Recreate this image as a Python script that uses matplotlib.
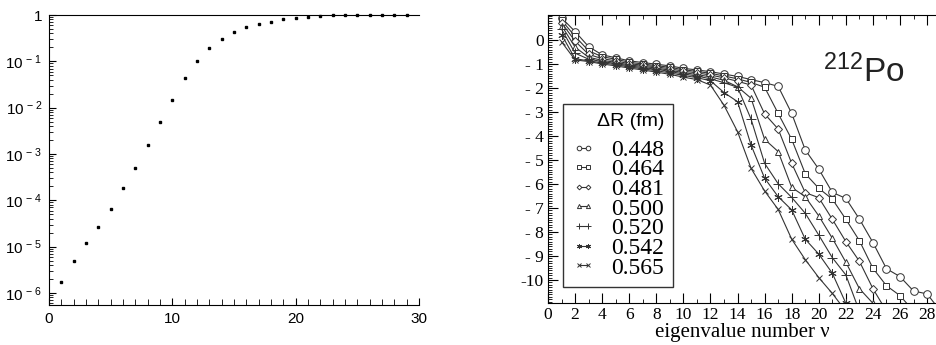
import numpy as np
import matplotlib
matplotlib.use('Agg')
import matplotlib.pyplot as plt
from matplotlib.ticker import MultipleLocator, FixedLocator, FuncFormatter, LogLocator, NullFormatter

# left panel: dots on a log scale
nu_left = np.arange(1, 30)
left_vals = [1.7e-6, 4.9e-6, 1.2e-5, 2.6e-5, 6.6e-5, 1.8e-4, 5.1e-4, 1.55e-3,
             4.9e-3, 1.5e-2, 4.4e-2, 0.102, 0.19, 0.30, 0.43, 0.54, 0.65, 0.72,
             0.81, 0.87, 0.91, 0.95, 0.98, 0.99, 1.0, 1.0, 1.0, 1.0, 1.0]

# right panel: log eigenvalues for several Delta R
dR_labels = ['0.448', '0.464', '0.481', '0.500', '0.520', '0.542', '0.565']
y_448 = [0.92, 0.35, -0.28, -0.62, -0.74, -0.87, -0.94, -1.01, -1.08, -1.18, -1.25, -1.32,
         -1.42, -1.52, -1.65, -1.78, -1.93, -3.06, -4.58, -5.38, -6.35, -6.6, -7.46, -8.44,
         -9.53, -9.86, -10.46, -10.58, -11.3]
y_464 = [0.82, 0.15, -0.45, -0.7, -0.8, -0.93, -1.0, -1.07, -1.14, -1.24, -1.31, -1.39,
         -1.5, -1.62, -1.77, -1.97, -3.06, -4.14, -5.57, -6.18, -6.63, -7.47, -8.36, -9.51,
         -10.24, -10.65, -11.3]
y_481 = [0.72, -0.05, -0.6, -0.78, -0.87, -0.99, -1.05, -1.12, -1.2, -1.3, -1.37, -1.46,
         -1.58, -1.72, -1.88, -3.08, -3.71, -5.14, -6.36, -6.57, -7.47, -8.4, -9.22, -10.36,
         -11.3]
y_500 = [0.6, -0.3, -0.72, -0.85, -0.93, -1.04, -1.1, -1.17, -1.26, -1.36, -1.44, -1.54,
         -1.68, -1.95, -2.43, -4.14, -4.65, -6.14, -6.53, -7.33, -8.26, -9.26, -10.36, -10.97]
y_520 = [0.45, -0.55, -0.8, -0.9, -0.98, -1.08, -1.15, -1.22, -1.31, -1.42, -1.5, -1.62,
         -1.78, -1.97, -3.3, -5.14, -5.99, -6.56, -7.22, -8.13, -9.07, -9.79, -11.3]
y_542 = [0.22, -0.78, -0.87, -0.95, -1.03, -1.12, -1.2, -1.28, -1.37, -1.48, -1.57, -1.7,
         -2.19, -2.57, -4.38, -5.76, -6.53, -7.08, -8.3, -8.92, -9.72, -10.97]
y_565 = [-0.08, -0.83, -0.9, -1.0, -1.08, -1.17, -1.25, -1.34, -1.43, -1.55, -1.65, -1.88,
         -2.72, -3.82, -5.35, -6.29, -7.06, -8.3, -9.15, -9.9, -10.56, -11.3]
series = [y_448, y_464, y_481, y_500, y_520, y_542, y_565]
markers = ['o', 's', 'D', '^', '+', (6, 2, 0), 'x']
msizes = [5.5, 5, 4, 5, 7, 6, 5]

fig = plt.figure(figsize=(9.36, 3.45), dpi=100)

# ---- left panel ----
ax1 = fig.add_axes([0.0524, 0.1159, 0.3953, 0.8406])
ax1.semilogy(nu_left, left_vals, 's', color='black', markersize=2, clip_on=False)
ax1.set_xlim(0, 30)
ax1.set_ylim(10 ** -6.26, 1)
ax1.spines['right'].set_visible(False)
ax1.set_xticks([0, 10, 20, 30])
ax1.xaxis.set_minor_locator(MultipleLocator(1))
ax1.yaxis.set_major_locator(FixedLocator([10.0 ** -k for k in range(0, 7)]))
ax1.yaxis.set_minor_locator(LogLocator(base=10, subs=np.arange(2, 10) * 1.0, numticks=20))
ax1.yaxis.set_minor_formatter(NullFormatter())


def left_fmt(v, pos):
    k = int(round(-np.log10(v)))
    if k == 0:
        return '1'
    return r'$\mathregular{10^{\,-%d}}$' % k


ax1.yaxis.set_major_formatter(FuncFormatter(left_fmt))
ax1.tick_params(which='both', direction='in', labelsize=11, pad=5)
ax1.tick_params(which='major', length=5)
ax1.tick_params(which='minor', length=3)
ax1.tick_params(axis='x', which='minor', length=4)
for t in ax1.get_xticklabels() + ax1.get_yticklabels():
    t.set_family('Liberation Sans')

# ---- right panel ----
ax2 = fig.add_axes([0.5855, 0.1217, 0.4145, 0.8348])
for ys, lab, m, ms in zip(series, dR_labels, markers, msizes):
    xs = np.arange(1, len(ys) + 1)
    ax2.plot(xs, ys, color='#333333', linewidth=0.8, marker=m, markersize=ms,
             markerfacecolor='white', markeredgecolor='#333333', markeredgewidth=0.7,
             label=lab)
ax2.set_xlim(0, 28.66)
ax2.set_ylim(-10.96, 1.04)
ax2.spines['right'].set_visible(False)
ax2.xaxis.set_major_locator(MultipleLocator(2))
ax2.xaxis.set_minor_locator(MultipleLocator(1))
ax2.yaxis.set_major_locator(FixedLocator(list(range(-10, 1))))
ax2.yaxis.set_minor_locator(MultipleLocator(0.1))


def right_fmt(v, pos):
    n = int(round(v))
    if n == 0:
        return '0'
    if n > -10:
        return '- %d' % -n
    return '-%d' % -n


ax2.yaxis.set_major_formatter(FuncFormatter(right_fmt))
ax2.tick_params(which='both', direction='in', top=True, labelsize=12.5, pad=3)
ax2.tick_params(which='major', length=7)
ax2.tick_params(which='minor', length=3)
for t in ax2.get_xticklabels() + ax2.get_yticklabels():
    t.set_family('Liberation Serif')
ax2.set_xlabel('eigenvalue number \u03bd', family='Liberation Serif', fontsize=15, labelpad=0)

ax2.text(0.92, 0.767, r'$\mathregular{^{212}Po}$', transform=ax2.transAxes,
         family='Liberation Sans', fontsize=24, ha='right', va='baseline', color='#222222')

leg = ax2.legend(loc='lower left', bbox_to_anchor=(0.039, 0.056), borderaxespad=0,
                 numpoints=2, handlelength=1.0, handletextpad=0.7, fancybox=False,
                 framealpha=1, edgecolor='#333333', markerscale=0.6, labelspacing=-0.08,
                 borderpad=0.35, title='\u0394R (fm)',
                 prop={'family': 'Liberation Serif', 'size': 17})
leg.get_title().set_family('Liberation Sans')
leg.get_title().set_fontsize(14)
leg._legend_box.align = 'right'
leg._legend_box.sep = 7

fig.savefig('out.png', dpi=100)
